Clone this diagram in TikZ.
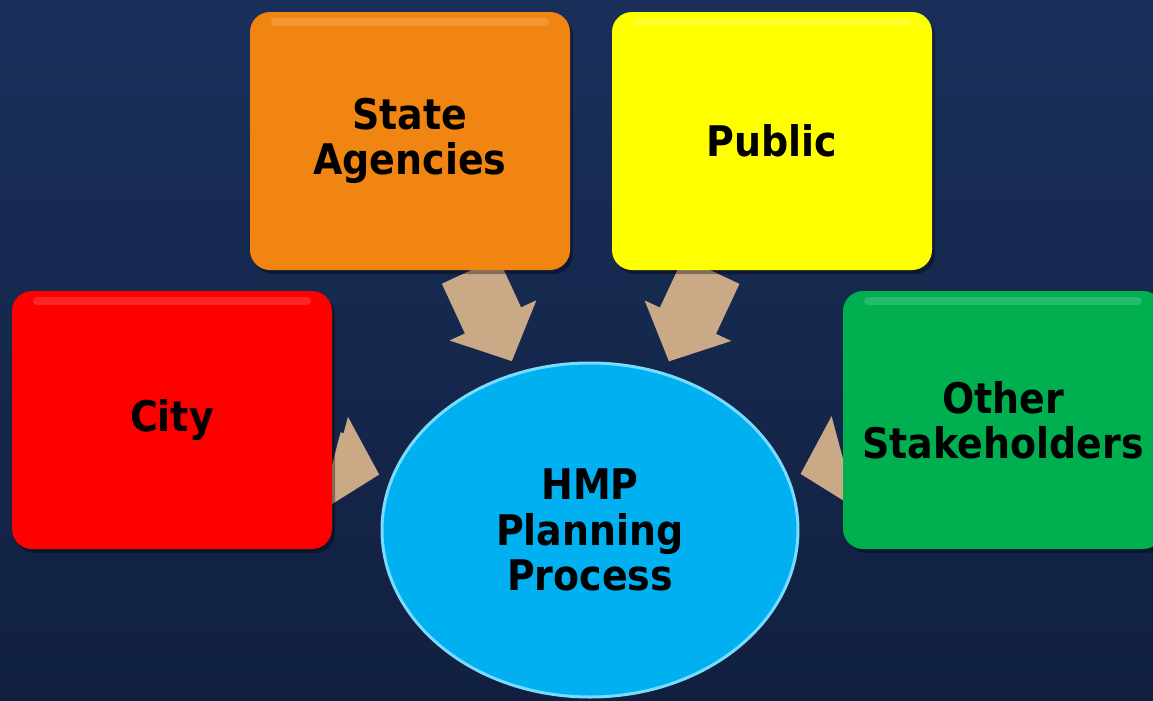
\documentclass[tikz,border=0pt]{standalone}
\usepackage{fontspec}
\setmainfont{DejaVu Sans Condensed}
\usepackage{tikz}
\usetikzlibrary{positioning,shapes.geometric,arrows.meta,backgrounds,shadows}

\definecolor{navytop}{RGB}{25,47,90}
\definecolor{navybot}{RGB}{17,32,64}
\definecolor{boxorange}{RGB}{241,133,17}
\definecolor{boxyellow}{RGB}{255,255,0}
\definecolor{boxred}{RGB}{255,0,0}
\definecolor{boxgreen}{RGB}{0,176,80}
\definecolor{hubblue}{RGB}{0,176,240}
\definecolor{hubrim}{RGB}{120,220,255}
\definecolor{feedtan}{RGB}{201,169,134}

\begin{document}
\begin{tikzpicture}[x=0.1mm,y=-0.1mm,
    box/.style={rectangle, rounded corners=2mm, inner sep=0pt,
      minimum width=32mm, minimum height=25.8mm, align=center,
      font=\bfseries\fontsize{12pt}{12.8pt}\selectfont,
      drop shadow={fill=black, opacity=.35, shadow xshift=.3mm, shadow yshift=-.4mm},
      path picture={
        \draw[white, opacity=.15, line width=.8mm, line cap=round]
          ([xshift=2.5mm,yshift=-1mm]path picture bounding box.north west) --
          ([xshift=-2.5mm,yshift=-1mm]path picture bounding box.north east);
      }},
    hub/.style={ellipse, inner sep=0pt, minimum width=41.6mm,
      minimum height=33.4mm, align=center, fill=hubblue,
      draw=hubrim, line width=.3mm,
      font=\bfseries\fontsize{12pt}{13pt}\selectfont},
    feed/.style={draw=feedtan, line width=6.2mm,
      -{Triangle[length=4.5mm,width=9.3mm]}, shorten >=1.2mm}]

    \useasboundingbox (0,0) rectangle (1153,700);

    % the five parties
    \node[box, fill=boxorange] (state)  at (410,141)  {State\\Agencies};
    \node[box, fill=boxyellow] (public) at (772,141)  {Public};
    \node[box, fill=boxred]    (city)   at (172,420)  {City};
    \node[box, fill=boxgreen]  (other)  at (1003,420) {Other\\Stakeholders};

    \node[hub] (hmp) at (590,530) {HMP\\Planning\\Process};

    \begin{scope}[on background layer]
	\shade[top color=navytop, bottom color=navybot] (0,0) rectangle (1153,700);

	\draw[feed] (state)  -- (hmp);
	\draw[feed] (public) -- (hmp);
	\draw[feed] (city)   -- (hmp);
	\draw[feed] (other)  -- (hmp);
    \end{scope}

\end{tikzpicture}
\end{document}
